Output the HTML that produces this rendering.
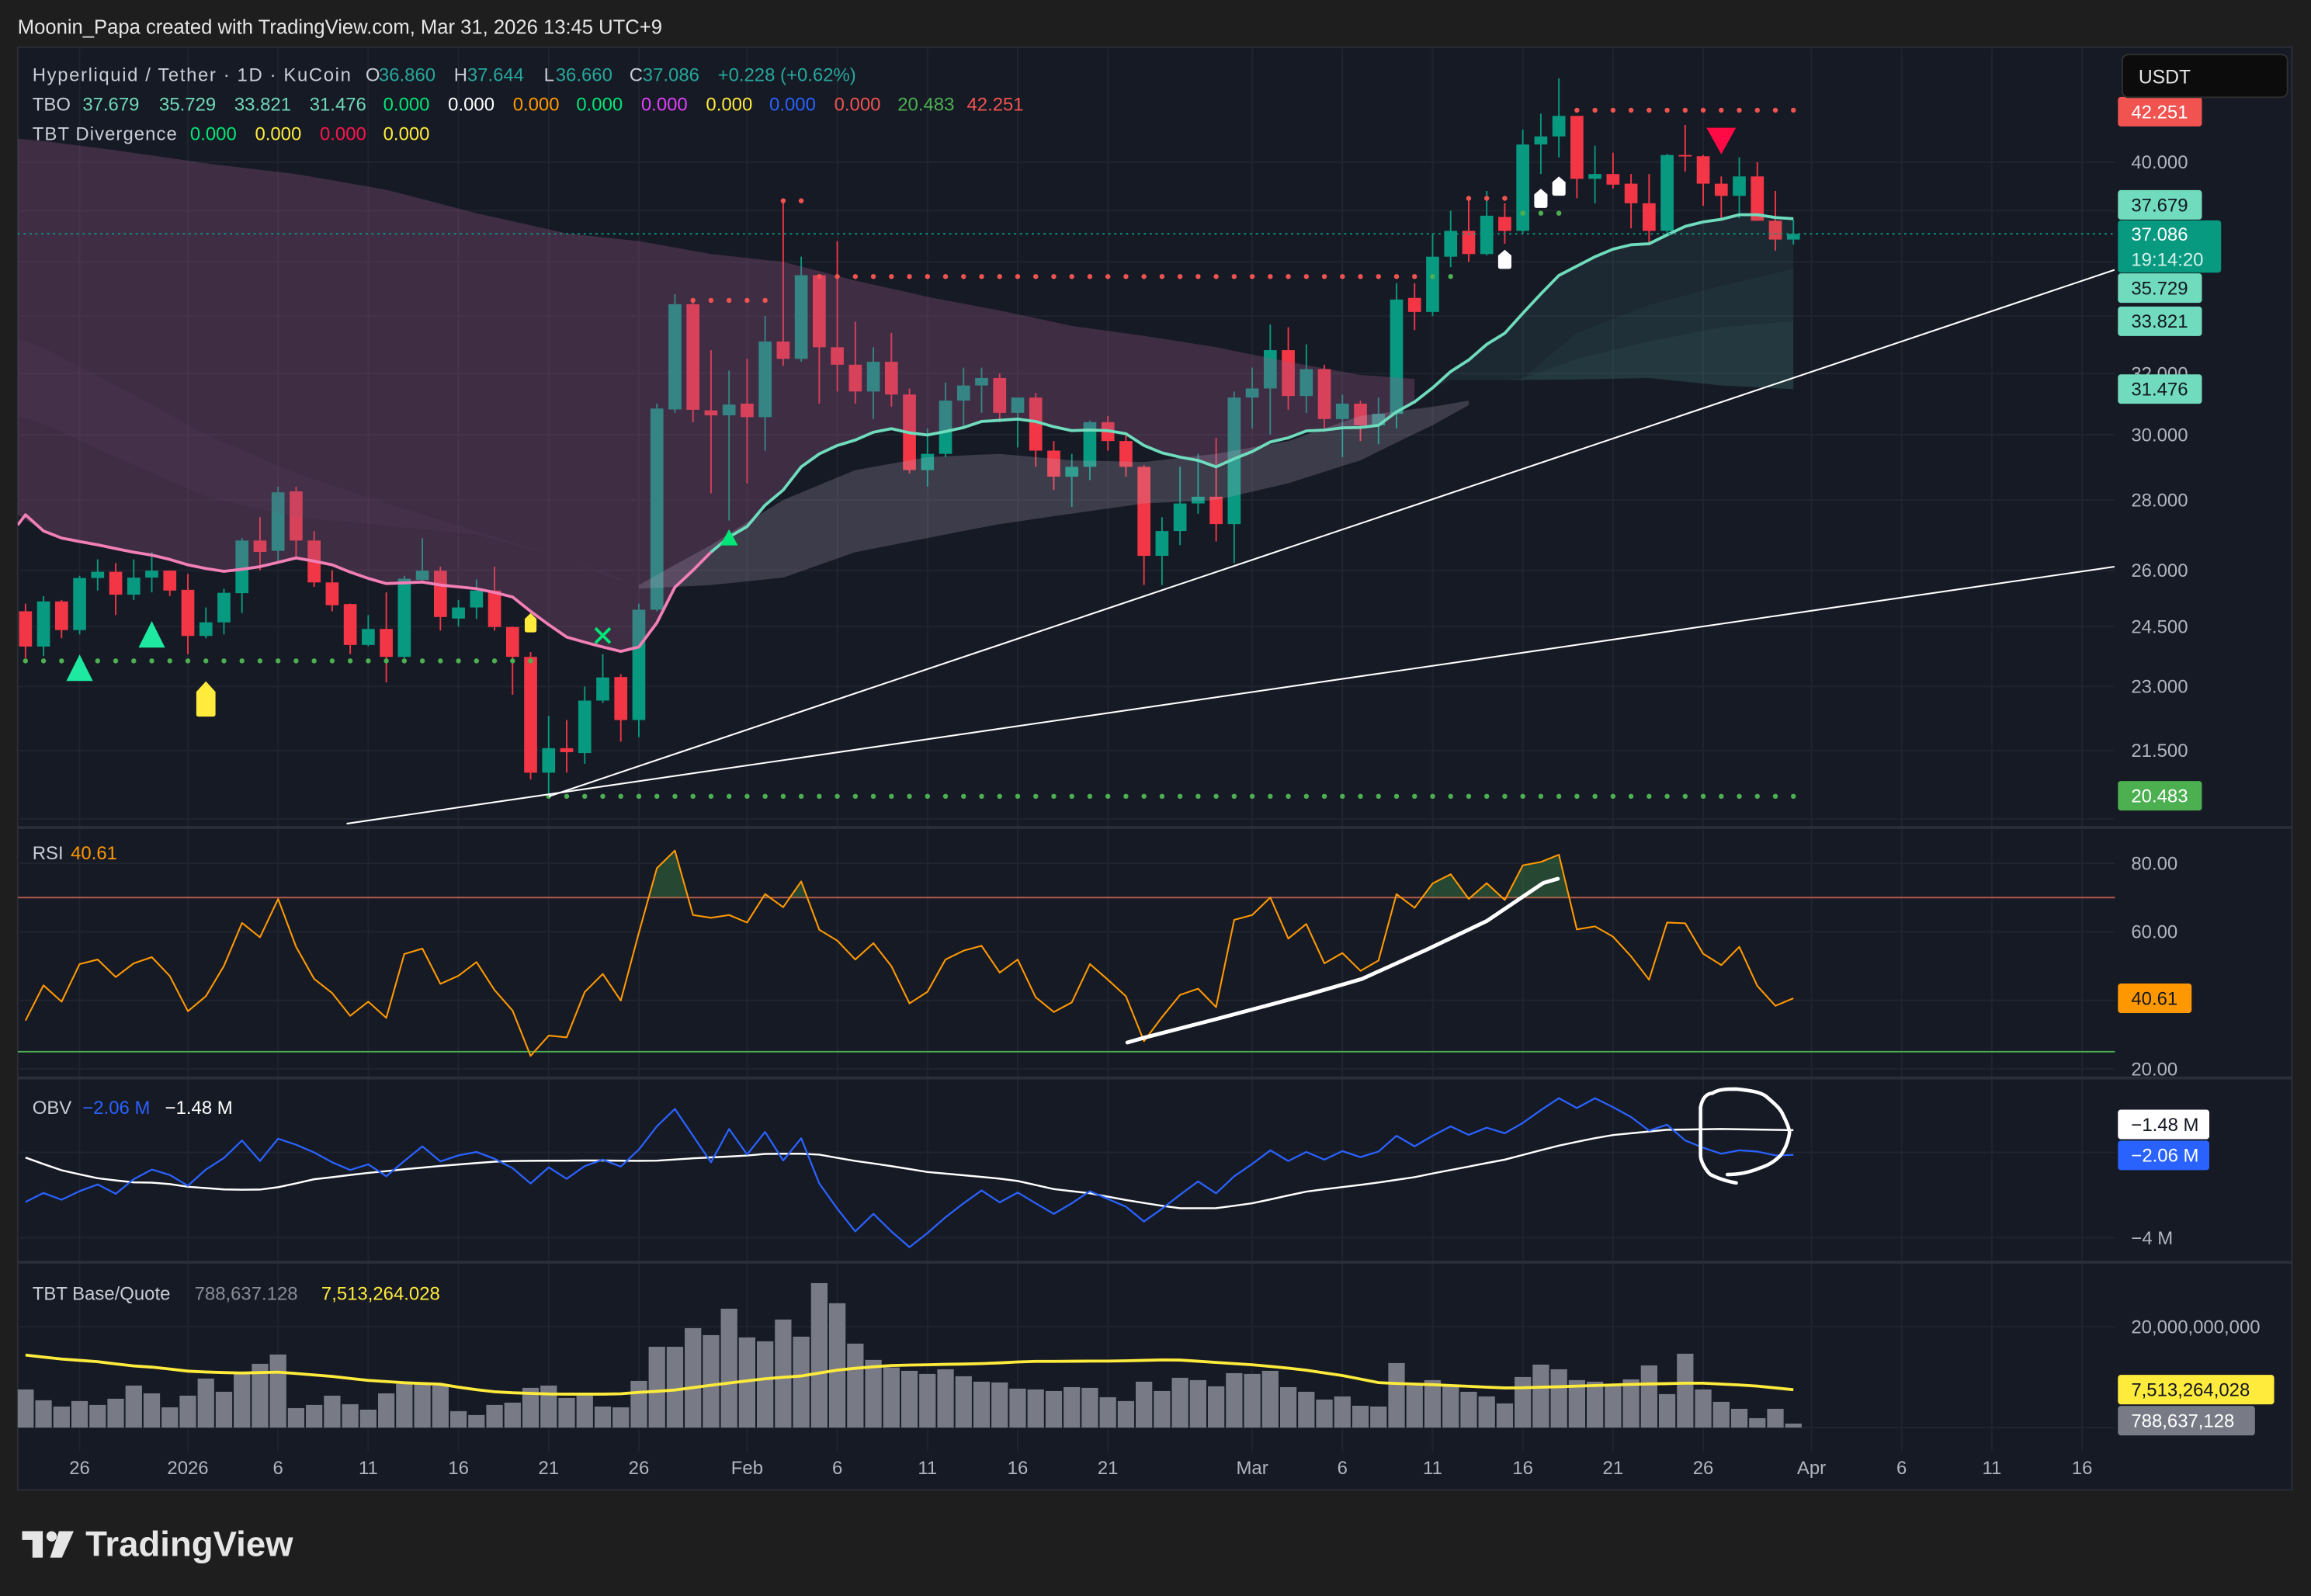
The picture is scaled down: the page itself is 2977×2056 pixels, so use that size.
<!DOCTYPE html>
<html><head><meta charset="utf-8"><title>HYPE/USDT chart</title>
<style>
html,body{margin:0;padding:0;background:#1e1e1e;}
svg{display:block;}
text{font-family:"Liberation Sans",sans-serif;}
</style></head>
<body>
<svg id="chart" xmlns="http://www.w3.org/2000/svg" width="2977" height="2056" viewBox="0 0 1568 1083" preserveAspectRatio="none">
<defs>
<clipPath id="cp-price"><rect x="12" y="33" width="1423" height="528"/></clipPath>
<clipPath id="cp-rsi"><rect x="12" y="562" width="1423" height="169"/></clipPath>
<clipPath id="cp-rsi-ob"><rect x="12" y="562" width="1423" height="47.1"/></clipPath>
<clipPath id="cp-obv"><rect x="12" y="732" width="1423" height="124"/></clipPath>
<clipPath id="cp-vol"><rect x="12" y="857" width="1423" height="128"/></clipPath>
</defs>
<rect x="0" y="0" width="1568" height="1083" fill="#1e1e1e"/>
<text x="12" y="23" font-size="13.5" fill="#e6e6e6">Moonin_Papa created with TradingView.com, Mar 31, 2026 13:45 UTC+9</text>
<rect x="12" y="32" width="1543" height="979" fill="#161a25" stroke="#2a2e39" stroke-width="1"/>
<g id="g-grid"></g>
<g id="g-price" clip-path="url(#cp-price)"></g>
<g id="g-rsi" clip-path="url(#cp-rsi)"></g>
<g id="g-obv" clip-path="url(#cp-obv)"></g>
<g id="g-vol" clip-path="url(#cp-vol)"></g>
<g id="g-axis"></g>

<line x1="12" y1="561.5" x2="1555" y2="561.5" stroke="#2a2e39" stroke-width="2"/>
<line x1="12" y1="731.5" x2="1555" y2="731.5" stroke="#2a2e39" stroke-width="2"/>
<line x1="12" y1="856.5" x2="1555" y2="856.5" stroke="#2a2e39" stroke-width="2"/>

<g font-size="12.6">
<text x="22" y="55" fill="#c9ccd4" textLength="216">Hyperliquid / Tether · 1D · KuCoin</text>
<text x="248" y="55" fill="#c9ccd4">O</text>
<text x="257" y="55" fill="#26a69a">36.860</text>
<text x="308" y="55" fill="#c9ccd4">H</text>
<text x="317" y="55" fill="#26a69a">37.644</text>
<text x="369" y="55" fill="#c9ccd4">L</text>
<text x="377" y="55" fill="#26a69a">36.660</text>
<text x="427" y="55" fill="#c9ccd4">C</text>
<text x="436" y="55" fill="#26a69a">37.086</text>
<text x="487" y="55" fill="#26a69a">+0.228 (+0.62%)</text>
</g>
<g font-size="12.6">
<text x="22" y="75" fill="#c9ccd4">TBO</text>
<text x="56" y="75" fill="#6fd8b8">37.679</text>
<text x="108" y="75" fill="#6fd8b8">35.729</text>
<text x="159" y="75" fill="#6fd8b8">33.821</text>
<text x="210" y="75" fill="#6fd8b8">31.476</text>
<text x="260" y="75" fill="#00e676">0.000</text>
<text x="304" y="75" fill="#ffffff">0.000</text>
<text x="348" y="75" fill="#ff9800">0.000</text>
<text x="391" y="75" fill="#00e676">0.000</text>
<text x="435" y="75" fill="#e040fb">0.000</text>
<text x="479" y="75" fill="#ffeb3b">0.000</text>
<text x="522" y="75" fill="#2962ff">0.000</text>
<text x="566" y="75" fill="#f05350">0.000</text>
<text x="609" y="75" fill="#4caf50">20.483</text>
<text x="656" y="75" fill="#f05350">42.251</text>
</g>
<g font-size="12.6">
<text x="22" y="95" fill="#c9ccd4" textLength="98">TBT Divergence</text>
<text x="129" y="95" fill="#00e676">0.000</text>
<text x="173" y="95" fill="#ffeb3b">0.000</text>
<text x="217" y="95" fill="#f7174d">0.000</text>
<text x="260" y="95" fill="#ffeb3b">0.000</text>
</g>
<g font-size="12.6">
<text x="22" y="583" fill="#c9ccd4">RSI</text>
<text x="48" y="583" fill="#ff9800">40.61</text>
</g>
<g font-size="12.6">
<text x="22" y="756" fill="#c9ccd4">OBV</text>
<text x="56" y="756" fill="#2962ff">−2.06 M</text>
<text x="112" y="756" fill="#ffffff">−1.48 M</text>
</g>
<g font-size="12.6">
<text x="22" y="882" fill="#c9ccd4">TBT Base/Quote</text>
<text x="132" y="882" fill="#8a8d96">788,637.128</text>
<text x="218" y="882" fill="#ffeb3b">7,513,264.028</text>
</g>

<g>
<rect x="1440" y="37" width="112" height="29" rx="4" fill="#0c0c0c" stroke="#2f2f2f"/>
<text x="1451" y="56.5" font-size="13" fill="#e6e6e6">USDT</text>
</g>

<g>
<rect x="15" y="1039" width="14" height="6" fill="#e6e6e6"/>
<rect x="22" y="1039" width="7" height="18" fill="#e6e6e6"/>
<circle cx="35" cy="1042.5" r="3.5" fill="#e6e6e6"/>
<polygon points="40,1039 50,1039 42,1057 34,1057" fill="#e6e6e6"/>
<text x="58" y="1056" font-size="24" font-weight="bold" fill="#e6e6e6">TradingView</text>
</g>
</svg>

<script>
// ===== DATA =====
const dates = ["Dec23","Dec24","Dec25","Dec26","Dec27","Dec28","Dec29","Dec30","Dec31","Jan1","Jan2","Jan3","Jan4","Jan5","Jan6","Jan7","Jan8","Jan9","Jan10","Jan11","Jan12","Jan13","Jan14","Jan15","Jan16","Jan17","Jan18","Jan19","Jan20","Jan21","Jan22","Jan23","Jan24","Jan25","Jan26","Jan27","Jan28","Jan29","Jan30","Jan31","Feb1","Feb2","Feb3","Feb4","Feb5","Feb6","Feb7","Feb8","Feb9","Feb10","Feb11","Feb12","Feb13","Feb14","Feb15","Feb16","Feb17","Feb18","Feb19","Feb20","Feb21","Feb22","Feb23","Feb24","Feb25","Feb26","Feb27","Feb28","Mar1","Mar2","Mar3","Mar4","Mar5","Mar6","Mar7","Mar8","Mar9","Mar10","Mar11","Mar12","Mar13","Mar14","Mar15","Mar16","Mar17","Mar18","Mar19","Mar20","Mar21","Mar22","Mar23","Mar24","Mar25","Mar26","Mar27","Mar28","Mar29","Mar30","Mar31"];
const opens = [24.9,23.99,25.16,24.41,25.79,25.96,25.34,25.8,25.99,25.47,24.26,24.61,25.38,26.83,26.54,28.26,26.83,25.67,25.09,24.03,24.44,23.73,25.74,25.99,24.71,25.0,25.45,24.49,23.73,21.0,21.55,21.44,22.66,23.23,22.2,24.94,30.81,34.43,30.78,30.62,31.0,30.56,33.1,32.5,35.5,32.9,32.3,31.4,32.4,31.3,28.9,29.4,31.1,31.6,31.85,30.7,31.2,29.5,28.7,29.0,30.4,29.8,29.0,26.4,27.1,27.9,28.1,27.3,31.2,31.5,32.8,31.25,32.15,30.5,31.0,30.3,30.67,34.66,34.15,36.2,37.2,36.3,37.75,37.2,40.75,41.1,42.0,39.3,39.5,39.1,38.3,37.2,40.3,40.25,39.1,38.6,39.4,37.6,36.86];
const highs = [25.1,25.3,25.2,25.85,26.3,26.2,26.3,26.5,26.0,25.9,25.0,25.5,26.9,27.5,28.4,28.4,27.1,26.0,25.1,24.8,25.4,25.85,26.9,26.1,25.2,25.75,26.1,24.5,23.85,22.3,22.2,23.0,23.8,23.3,25.1,31.0,34.8,34.5,32.8,32.1,32.5,34.0,38.4,36.2,35.5,36.8,33.8,32.9,33.4,31.5,30.2,31.7,32.2,32.2,32.0,31.2,31.35,29.8,29.4,30.45,30.6,30.05,29.05,27.5,29.0,29.4,29.9,31.4,32.2,33.7,33.6,33.0,32.3,31.3,31.1,31.2,35.2,35.2,37.1,38.0,38.5,38.8,38.3,41.4,42.1,43.7,42.0,40.7,40.4,39.5,39.5,40.35,41.6,40.3,39.4,40.2,40.0,38.8,37.644];
const lows = [23.7,23.75,24.2,24.3,25.45,24.8,25.2,25.4,25.3,23.8,24.2,24.3,24.85,26.0,26.2,26.3,25.55,24.9,23.8,24.0,23.1,23.7,25.7,24.4,24.5,24.7,24.4,22.8,20.85,20.5,21.0,21.2,22.6,21.7,21.8,24.9,30.7,30.4,28.2,27.4,28.5,29.5,32.26,32.4,31.0,31.4,31.0,30.5,30.9,28.8,28.4,29.3,30.2,30.7,30.4,29.6,29.0,28.3,27.8,28.6,29.5,28.7,25.6,25.6,26.7,27.6,26.8,26.2,30.2,30.0,30.8,30.7,30.2,29.3,29.8,29.7,30.2,33.5,34.0,35.8,36.0,36.25,36.7,37.1,39.5,40.2,38.5,38.3,38.9,37.3,36.7,37.1,39.6,38.2,37.6,37.7,37.6,36.43,36.66];
const closes = [23.99,25.16,24.41,25.79,25.96,25.34,25.8,25.99,25.45,24.26,24.61,25.39,26.83,26.51,28.23,26.83,25.67,25.06,24.03,24.44,23.73,25.77,25.99,24.75,25.0,25.45,24.49,23.73,21.0,21.55,21.46,22.66,23.22,22.2,24.94,30.84,34.43,30.8,30.62,30.97,30.56,33.1,32.5,35.5,32.9,32.3,31.4,32.4,31.3,28.9,29.4,31.1,31.6,31.85,30.7,31.2,29.5,28.7,29.0,30.4,29.8,29.0,26.4,27.1,27.9,28.1,27.3,31.2,31.5,32.8,31.25,32.15,30.5,31.0,30.3,30.67,34.6,34.15,36.2,37.2,36.3,37.8,37.2,40.75,41.1,42.0,39.3,39.5,39.06,38.3,37.2,40.3,40.25,39.1,38.6,39.4,37.6,36.86,37.086];
const tboFast = [27.57,27.1,26.9,26.8,26.71,26.6,26.5,26.42,26.3,26.15,26.05,25.97,26.03,26.1,26.22,26.34,26.25,26.15,25.95,25.78,25.64,25.66,25.68,25.6,25.55,25.5,25.4,25.28,24.9,24.55,24.23,24.1,23.98,23.87,23.98,24.6,25.54,26.0,26.5,26.93,27.23,27.85,28.3,29.0,29.4,29.66,29.83,30.08,30.19,30.06,29.99,30.1,30.23,30.42,30.46,30.5,30.42,30.25,30.13,30.15,30.13,30.03,29.66,29.43,29.3,29.2,29.0,29.25,29.47,29.77,29.9,30.12,30.15,30.22,30.23,30.3,30.73,31.06,31.52,32.07,32.46,33.0,33.39,34.1,34.81,35.49,35.84,36.2,36.49,36.66,36.7,37.04,37.38,37.55,37.66,37.84,37.84,37.73,37.68];
const bandIdx = [0,5,10,15,20,25,30,34,38,42,46,50,54,58,62,66,70,74,78,82,86,90,94,98];
const bandSlow = [41.0,40.5,39.95,39.5,38.85,37.9,37.1,36.8,36.3,36.0,35.3,34.7,34.2,33.65,33.3,32.9,32.4,31.95,31.78,31.78,31.8,31.85,31.6,31.476];
const bandMid1 = [33.2,31.6,30.0,28.8,27.9,27.1,26.3,25.6,26.7,28.0,28.9,29.3,29.4,29.2,29.15,29.4,29.8,30.6,30.9,31.3,33.4,34.4,35.1,35.729];
const bandMid2 = [30.6,29.3,28.1,27.5,27.25,27.0,26.3,25.5,25.6,25.8,26.5,26.9,27.3,27.6,27.9,28.0,28.5,29.2,30.3,31.6,32.5,33.1,33.6,33.821];
const rsiValues = [34.1,44.4,39.6,50.6,51.9,46.8,50.8,52.6,47.1,36.8,41.2,50.0,62.6,58.4,69.6,55.6,46.3,42.1,35.5,39.6,34.9,53.5,55.1,44.8,47.2,51.2,43.0,37.0,23.8,29.7,29.2,42.4,47.7,39.9,59.8,78.6,83.7,64.9,64.1,64.9,62.7,71.0,67.2,74.7,60.6,57.4,51.9,56.7,49.96,39.1,42.5,51.9,54.5,55.9,48.1,51.9,40.9,36.6,39.4,50.6,46.0,41.2,28.1,35.1,41.6,43.4,38.0,63.5,64.9,70.0,58.0,62.3,50.8,53.8,48.6,51.6,71.0,67.0,74.1,76.8,69.6,74.2,69.3,79.4,80.4,82.5,60.7,61.6,58.6,52.8,46.0,62.7,62.5,53.6,50.3,55.6,44.2,38.4,40.61];
const rsiUpper = 70;
const rsiLower = 25;
const obvValues = [-3.16,-2.95,-3.11,-2.91,-2.75,-2.97,-2.63,-2.40,-2.53,-2.78,-2.40,-2.13,-1.72,-2.20,-1.68,-1.82,-2.00,-2.23,-2.41,-2.28,-2.56,-2.20,-1.86,-2.21,-2.07,-1.99,-2.15,-2.37,-2.73,-2.35,-2.62,-2.32,-2.17,-2.33,-1.93,-1.39,-0.98,-1.61,-2.23,-1.45,-2.05,-1.52,-2.19,-1.67,-2.73,-3.32,-3.85,-3.44,-3.85,-4.22,-3.89,-3.52,-3.19,-2.89,-3.17,-2.94,-3.19,-3.44,-3.19,-2.91,-3.09,-3.27,-3.62,-3.32,-2.99,-2.68,-2.96,-2.56,-2.27,-1.95,-2.20,-1.99,-2.17,-1.97,-2.11,-1.98,-1.61,-1.86,-1.61,-1.39,-1.59,-1.42,-1.55,-1.31,-1.01,-0.73,-0.96,-0.73,-0.94,-1.17,-1.49,-1.35,-1.72,-1.89,-2.03,-1.95,-1.98,-2.07,-2.06];
const obvMaIdx = [0,1.9,3.9,5.8,7.5,9.1,11.1,12.8,14.1,16,19,21.6,24.9,26.6,31.5,34.8,36.5,39.8,41.1,43.7,46,48,50,54.7,57,58.9,61.2,63.9,65.9,67.8,71.1,74.4,77,79,82,84.9,87.6,90.9,94.2,98];
const obvMaVals = [-2.12,-2.41,-2.60,-2.70,-2.71,-2.81,-2.87,-2.88,-2.81,-2.63,-2.48,-2.37,-2.25,-2.20,-2.19,-2.20,-2.15,-2.08,-2.03,-2.03,-2.20,-2.32,-2.46,-2.64,-2.86,-2.95,-3.13,-3.31,-3.31,-3.21,-2.91,-2.74,-2.58,-2.41,-2.17,-1.85,-1.61,-1.47,-1.45,-1.48];
const volValues = [7.55,5.40,4.17,5.25,4.48,5.71,8.32,6.78,4.01,6.32,9.71,7.09,10.63,12.63,14.47,3.86,4.48,6.32,4.63,3.55,6.78,8.63,8.63,8.32,3.25,2.48,4.48,4.94,7.86,8.32,5.86,6.32,4.17,4.01,9.24,16.01,16.01,19.70,18.32,23.55,17.86,17.09,21.4,18.01,28.62,24.63,16.63,13.4,11.91,11.24,10.63,11.55,10.17,9.09,8.94,7.71,7.55,7.24,8.01,7.86,6.01,5.25,9.09,7.24,9.86,9.40,8.17,10.78,10.63,11.24,8.01,7.09,5.55,6.17,4.32,4.17,12.78,8.32,9.40,8.17,7.09,6.17,4.78,10.01,12.47,11.55,9.40,9.09,8.32,9.55,12.32,6.63,14.63,7.55,5.09,3.71,1.86,3.71,0.79];
const volMaIdx = [0,1.9,3.9,5.8,7.2,9.1,11.8,14.1,17,19,21,23,24.6,26.3,29.2,32.8,34.2,35.8,38.1,39.8,41.4,43,45.3,48,53.1,55.6,60.6,63.6,68.1,70.6,72.9,75.1,78.1,82.2,85.7,89.2,92.7,95.7,98];
const volMaVals = [14.37,13.6,13.09,12.27,11.91,11.14,10.78,10.99,10.12,9.35,8.89,8.58,7.66,6.99,6.63,6.63,7.04,7.35,8.42,9.19,9.81,10.22,11.55,12.3,12.68,13.09,13.19,13.45,12.42,11.55,10.37,8.83,8.48,7.81,8.17,8.58,8.83,8.32,7.51];
const lvlStart = [0,37,42,44,78,80,83,86,29];
const lvlEnd   = [28,41,43,77,79,82,85,98,98];
const lvlPrice = [23.63,34.57,38.4,35.45,35.45,38.5,37.9,42.251,20.483];
const lvlColor = ["#4caf50","#f05350","#f05350","#f05350","#4caf50","#f05350","#4caf50","#f05350","#4caf50"];
const mkIdx   = [3,7,10,28,32,39,82,84,85,94];
const mkPrice = [23.46,24.3,22.7,24.6,24.27,26.9,36.1,38.5,39.0,40.9];
const mkType  = ["tri-big","tri-big","yellow-big","yellow-small","cross","tri-small","white","white","white","down"];
const priceTicks = [40,30,28,26,24.5,23,21.5];
const priceGrid = [40,38,36,34,32,30,28,26,24.5,23,21.5,20];
const rsiTicks = [80,60,20];
const rsiGrid = [80,60,40,20];
const dateLabels = ["26","2026","6","11","16","21","26","Feb","6","11","16","21","Mar","6","11","16","21","26","Apr","6","11","16"];
const dateLabelIdx = [3,9,14,19,24,29,34,40,45,50,55,60,68,73,78,83,88,93,99,104,109,114];
const lastPrice = 37.086;

// ===== SCALES =====
const NS = 'http://www.w3.org/2000/svg';
const PL = 12, PR = 1435;
function xOf(i){ return 17.3 + i*12.24; }
function yP(p){ return 110 + 643*(Math.log(40) - Math.log(p)); }
function yRsi(v){ return 585.8 + (80 - v)*2.325; }
function yObv(v){ return 782 + (-2 - v)*28.95; }
function yVol(b){ return 968.7 - b*3.425; }
function interp(ix, vals, i){
  if (i <= ix[0]) return vals[0];
  for (let k=1;k<ix.length;k++){ if (i <= ix[k]) { const t=(i-ix[k-1])/(ix[k]-ix[k-1]); return vals[k-1]+t*(vals[k]-vals[k-1]); } }
  return vals[vals.length-1];
}
function mk(tag, attrs, parent){ const e=document.createElementNS(NS,tag); for (const k in attrs) e.setAttribute(k, attrs[k]); parent.appendChild(e); return e; }
const gGrid = document.getElementById('g-grid');
const gPrice = document.getElementById('g-price');
const gRsi = document.getElementById('g-rsi');
const gObv = document.getElementById('g-obv');
const gVol = document.getElementById('g-vol');
const gAxis = document.getElementById('g-axis');
const N = closes.length;

// ===== GRID =====
dateLabelIdx.forEach(function(di){
  const gl = mk('line', {x1:xOf(di), x2:xOf(di), y1:33, y2:985, stroke:'#20242f', 'stroke-width':1}, gGrid);
  
  
});
priceGrid.forEach(function(p){
  const gl = mk('line', {x1:PL, x2:PR, y1:yP(p), y2:yP(p), stroke:'#20242f', 'stroke-width':1}, gGrid);
  
  
});
rsiGrid.forEach(function(v){
  const gl = mk('line', {x1:PL, x2:PR, y1:yRsi(v), y2:yRsi(v), stroke:'#20242f', 'stroke-width':1}, gGrid);
  
  
});
[-2,-4].forEach(function(v){
  const gl = mk('line', {x1:PL, x2:PR, y1:yObv(v), y2:yObv(v), stroke:'#20242f', 'stroke-width':1}, gGrid);
  
  
});
[0,20].forEach(function(v){
  const gl = mk('line', {x1:PL, x2:PR, y1:yVol(v), y2:yVol(v), stroke:'#20242f', 'stroke-width':1}, gGrid);
  
  
});

// ===== CANDLES =====
for (let i=0;i<N;i++){
  const up = closes[i] >= opens[i];
  const col = up ? '#089981' : '#f23645';
  const x = xOf(i);
  const w = mk('line', {x1:x, x2:x, y1:yP(highs[i]), y2:yP(lows[i]), stroke:col, 'stroke-width':1}, gPrice);
  
  
  const yt = yP(Math.max(opens[i], closes[i])), yb = yP(Math.min(opens[i], closes[i]));
  const b = mk('rect', {x:x-4.4, y:yt, width:8.8, height:Math.max(1, yb-yt), fill:col}, gPrice);
  
  
}

// ===== TBO RIBBON FILLS =====
function xFill(i){ return i === 0 ? 12 : xOf(i); }
function bandPath(i0, i1, topFn, botFn){
  let d = '';
  for (let i=i0;i<=i1;i++) d += (i===i0?'M':'L') + xFill(i).toFixed(1) + ',' + yP(topFn(i)).toFixed(1);
  for (let i=i1;i>=i0;i--) d += 'L' + xFill(i).toFixed(1) + ',' + yP(botFn(i)).toFixed(1);
  return d + 'Z';
}
const slow = function(i){ return interp(bandIdx, bandSlow, i); };
const mid1 = function(i){ return interp(bandIdx, bandMid1, i); };
const mid2 = function(i){ return interp(bandIdx, bandMid2, i); };
const fast = function(i){ return tboFast[i]; };
const pFill = mk('path', {d:bandPath(0, 77, slow, function(i){ return Math.min(fast(i), slow(i)); }), fill:'rgba(156,90,140,0.31)'}, gPrice);


const pFill2 = mk('path', {d:bandPath(0, 33, mid1, mid2), fill:'rgba(120,80,115,0.10)'}, gPrice);


const pFill3 = mk('path', {d:bandPath(34, 80, function(i){ return Math.min(mid1(i), slow(i)); }, function(i){ return Math.min(mid2(i), mid1(i), slow(i)); }), fill:'rgba(185,170,195,0.24)'}, gPrice);


const tFill = mk('path', {d:bandPath(76, 98, fast, function(i){ return Math.min(slow(i), fast(i)); }), fill:'rgba(80,160,150,0.12)'}, gPrice);


const tFill2 = mk('path', {d:bandPath(80, 98, function(i){ return Math.max(mid1(i), slow(i)); }, slow), fill:'rgba(90,170,160,0.06)'}, gPrice);


const tFill3 = mk('path', {d:bandPath(80, 98, function(i){ return Math.max(mid2(i), slow(i)); }, slow), fill:'rgba(90,170,160,0.07)'}, gPrice);



// ===== TBO FAST LINE =====
function linePath(i0, i1, fn, yfn){
  let d = '';
  for (let i=i0;i<=i1;i++) d += (i===i0?'M':'L') + xOf(i).toFixed(1) + ',' + yfn(fn(i)).toFixed(1);
  return d;
}
const fl1 = mk('path', {d:'M12,' + yP(fast(0)-0.3).toFixed(1) + linePath(0, 38, fast, yP).replace('M','L'), fill:'none', stroke:'#f27fb6', 'stroke-width':2, 'stroke-linejoin':'round'}, gPrice);


const fl2 = mk('path', {d:linePath(38, 98, fast, yP), fill:'none', stroke:'#6fdcbd', 'stroke-width':2, 'stroke-linejoin':'round'}, gPrice);



// ===== DOTTED LEVELS =====
for (let k=0;k<lvlStart.length;k++){
  for (let i=lvlStart[k]; i<=lvlEnd[k]; i++){
    const c = mk('circle', {cx:xOf(i), cy:yP(lvlPrice[k]), r:1.7, fill:lvlColor[k]}, gPrice);
    
    
  }
}

// ===== MARKERS =====
for (let k=0;k<mkIdx.length;k++){
  const x = xOf(mkIdx[k]), y = yP(mkPrice[k]); let el;
  const t = mkType[k];
  if (t==='tri-big') el = mk('polygon', {points:(x-9)+','+(y+9)+' '+(x+9)+','+(y+9)+' '+x+','+(y-9), fill:'#1de9a0'}, gPrice);
  else if (t==='tri-small') el = mk('polygon', {points:(x-6)+','+(y+5)+' '+(x+6)+','+(y+5)+' '+x+','+(y-6), fill:'#00e676'}, gPrice);
  else if (t==='down') el = mk('polygon', {points:(x-10)+','+(y-9)+' '+(x+10)+','+(y-9)+' '+x+','+(y+9), fill:'#ff0a45'}, gPrice);
  else if (t==='cross') el = mk('path', {d:'M'+(x-5)+','+(y-5)+'L'+(x+5)+','+(y+5)+'M'+(x+5)+','+(y-5)+'L'+(x-5)+','+(y+5), stroke:'#00e676', 'stroke-width':2, fill:'none'}, gPrice);
  else {
    const w = t==='yellow-big' ? 6.5 : (t==='yellow-small' ? 4 : 4.5);
    const h = t==='yellow-big' ? 12 : 6.5;
    const col = t==='white' ? '#ffffff' : '#ffeb3b';
    el = mk('path', {d:'M'+(x-w)+','+(y-h*0.4)+'L'+x+','+(y-h)+'L'+(x+w)+','+(y-h*0.4)+'L'+(x+w)+','+(y+h-1.5)+'Q'+(x+w)+','+(y+h)+' '+(x+w-1.5)+','+(y+h)+'L'+(x-w+1.5)+','+(y+h)+'Q'+(x-w)+','+(y+h)+' '+(x-w)+','+(y+h-1.5)+'Z', fill:col}, gPrice);
  }
  
  
}

// ===== TREND LINES (drawings) =====
const tl1 = mk('line', {x1:xOf(29), y1:yP(20.48), x2:xOf(115.8), y2:yP(35.7), stroke:'#ffffff', 'stroke-width':1.1}, gPrice);


const tl2 = mk('line', {x1:xOf(17.8), y1:yP(19.9), x2:xOf(115.8), y2:yP(26.1), stroke:'#ffffff', 'stroke-width':1.1}, gPrice);


const cpl = mk('line', {x1:PL, x2:PR, y1:yP(lastPrice), y2:yP(lastPrice), stroke:'#089981', 'stroke-width':1, 'stroke-dasharray':'1.5,2.5'}, gPrice);



// ===== RSI =====
const rsiUp = mk('line', {x1:PL, x2:PR, y1:yRsi(rsiUpper), y2:yRsi(rsiUpper), stroke:'#b5574a', 'stroke-width':1}, gRsi);


const rsiLo = mk('line', {x1:PL, x2:PR, y1:yRsi(rsiLower), y2:yRsi(rsiLower), stroke:'#4caf50', 'stroke-width':1}, gRsi);


const rsiFn = function(i){ return rsiValues[i]; };
const rsiFill = mk('path', {d:linePath(0, N-1, rsiFn, yRsi) + 'L' + xOf(N-1) + ',' + yRsi(rsiUpper) + 'L' + xOf(0) + ',' + yRsi(rsiUpper) + 'Z', fill:'rgba(76,175,80,0.3)', 'clip-path':'url(#cp-rsi-ob)'}, gRsi);


const rsiLine = mk('path', {d:linePath(0, N-1, rsiFn, yRsi), fill:'none', stroke:'#ff9800', 'stroke-width':1.1, 'stroke-linejoin':'round'}, gRsi);


const rsiDraw = mk('path', {d:'M764.9,707.4 L775,704.5 L823.3,692 L887.8,674.8 L924,664.3 L968.4,644.2 L1008.7,625 L1032.9,608.7 L1047,599.2 L1057,596.3', fill:'none', stroke:'#ffffff', 'stroke-width':2.6, 'stroke-linecap':'round', 'stroke-linejoin':'round'}, gRsi);



// ===== OBV =====
const obvMaLine = mk('path', {d:linePath(0, N-1, function(i){ return interp(obvMaIdx, obvMaVals, i); }, yObv), fill:'none', stroke:'#ffffff', 'stroke-width':1.3}, gObv);


const obvLine = mk('path', {d:linePath(0, N-1, function(i){ return obvValues[i]; }, yObv), fill:'none', stroke:'#2962ff', 'stroke-width':1.2, 'stroke-linejoin':'round'}, gObv);


const obvCircle = mk('path', {d:'M1178,802.7 C1168,801 1160,797 1159.8,796.4 C1155,791 1153.8,786 1153.8,784 L1153.8,751.4 C1155,745 1158,742 1161.9,741.8 C1166,739 1172,739 1178,739 C1188,740 1194,741 1198,743.7 C1204,749 1208,752 1210,757.1 C1213,763 1214,766 1214.2,768.6 C1213,776 1211,780 1208.2,784 C1203,789 1199,791 1194,792.6 C1186,796 1178,797 1172,797', fill:'none', stroke:'#ffffff', 'stroke-width':2.4, 'stroke-linecap':'round'}, gObv);



// ===== VOLUME =====
for (let i=0;i<N;i++){
  const yt = yVol(volValues[i]);
  const r = mk('rect', {x:xOf(i)-5.6, y:yt, width:11.2, height:yVol(0)-yt, fill:'#787b86'}, gVol);
  
  
}
const volMaLine = mk('path', {d:linePath(0, N-1, function(i){ return interp(volMaIdx, volMaVals, i); }, yVol), fill:'none', stroke:'#ffeb3b', 'stroke-width':2}, gVol);



// ===== AXES =====
function axisText(x, y, s, col, name){
  const t = mk('text', {x:x, y:y, 'font-size':12.6, fill:col, dy:'0.35em'}, gAxis);
  t.textContent = s;
  
  
  return t;
}
priceTicks.forEach(function(p){ axisText(1446, yP(p), p.toFixed(3), '#b2b5be', 'price-tick-label'); });
axisText(1446, yP(32), '32.000', '#b2b5be', 'price-tick-label');
rsiTicks.forEach(function(v){ axisText(1446, yRsi(v), v.toFixed(2), '#b2b5be', 'rsi-tick-label'); });
axisText(1446, yObv(-4), '−4 M', '#b2b5be', 'obv-tick-label');
axisText(1446, yVol(20), '20,000,000,000', '#b2b5be', 'volume-tick-label');
for (let k=0;k<dateLabels.length;k++){
  const t = mk('text', {x:xOf(dateLabelIdx[k]), y:996, 'font-size':12.6, fill:'#b2b5be', 'text-anchor':'middle', dy:'0.35em'}, gAxis);
  t.textContent = dateLabels[k];
  
  
}
function tag(y, w, bg, fg, s, name){
  const r = mk('rect', {x:1437, y:y-10, width:w, height:20, rx:2, fill:bg}, gAxis);
  
  
  axisText(1446, y, s, fg, name);
}
// tags are stacked to avoid overlap, as the platform does
tag(yP(42.251)+1, 57, '#f05350', '#ffffff', '42.251', 'resistance-price-tag');
tag(139, 57, '#70dbbd', '#131722', '37.679', 'tbo-fast-price-tag');
tag(195.5, 57, '#70dbbd', '#131722', '35.729', 'tbo-2-price-tag');
tag(218, 57, '#70dbbd', '#131722', '33.821', 'tbo-3-price-tag');
tag(264, 57, '#70dbbd', '#131722', '31.476', 'tbo-4-price-tag');
tag(540, 57, '#4caf50', '#ffffff', '20.483', 'support-price-tag');
const lpBox = mk('rect', {x:1437, y:149.5, width:70, height:35.5, rx:2, fill:'#089981'}, gAxis);


axisText(1446, 159, lastPrice.toFixed(3), '#ffffff', 'last-price-label');
axisText(1446, 176, '19:14:20', '#d6f2ea', 'bar-countdown-label');
tag(yRsi(40.61), 50, '#ff9800', '#131722', '40.61', 'rsi-value-tag');
tag(763, 62, '#ffffff', '#131722', '−1.48 M', 'obv-ma-tag');
tag(784, 62, '#2962ff', '#ffffff', '−2.06 M', 'obv-value-tag');
tag(yVol(7.513), 106, '#ffeb3b', '#131722', '7,513,264,028', 'volume-ma-tag');
tag(964, 93, '#787b86', '#ffffff', '788,637,128', 'volume-value-tag');
</script>
</body></html>
